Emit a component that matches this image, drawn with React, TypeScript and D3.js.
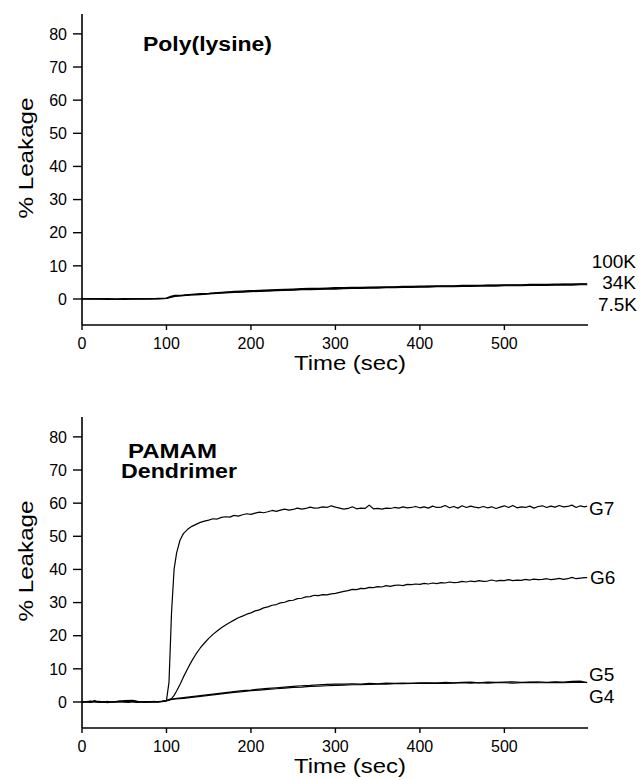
import React from "react";
import * as d3 from "d3";

// ---------- data ----------
const T_COARSE = [
  0, 10, 20, 30, 40, 50, 60, 70, 80, 90, 100, 105,
  110, 120, 130, 140, 150, 160, 170, 180, 190, 200,
  210, 220, 230, 240, 250, 260, 270, 280, 290, 300,
  310, 320, 330, 340, 350, 360, 370, 380, 390, 400,
  410, 420, 430, 440, 450, 460, 470, 480, 490, 500,
  510, 520, 530, 540, 550, 560, 570, 580, 590, 598,
];

const T_FINE = [
  0, 5, 10, 15, 20, 25, 30, 35, 40, 45, 50, 55, 60, 65, 70, 75, 80, 85, 90, 95, 100,
  103, 106, 109, 112, 116,
  120, 125, 130, 135, 140, 145, 150, 155, 160, 165,
  170, 175, 180, 185, 190, 195, 200, 205, 210, 215,
  220, 225, 230, 235, 240, 245, 250, 255, 260, 265,
  270, 275, 280, 285, 290, 295, 300, 305, 310, 315,
  320, 325, 330, 335, 340, 345, 350, 355, 360, 365,
  370, 375, 380, 385, 390, 395, 400, 405, 410, 415,
  420, 425, 430, 435, 440, 445, 450, 455, 460, 465,
  470, 475, 480, 485, 490, 495, 500, 505, 510, 515,
  520, 525, 530, 535, 540, 545, 550, 555, 560, 565,
  570, 575, 580, 585, 590, 595, 598,
];

// Poly(lysine) panel
const PL_100K = [
  0, 0.1, 0, -0.1, 0, 0.1, 0, 0.1, 0, 0.2, 0.3, 0.8,
  1.1, 1.2, 1.4, 1.6, 1.7, 1.9, 2.1, 2.3, 2.4, 2.5,
  2.6, 2.7, 2.8, 2.9, 3.0, 3.1, 3.2, 3.2, 3.3, 3.4,
  3.4, 3.5, 3.5, 3.6, 3.6, 3.7, 3.7, 3.8, 3.8, 3.9,
  3.9, 4.0, 4.0, 4.0, 4.1, 4.1, 4.1, 4.2, 4.2, 4.3,
  4.3, 4.3, 4.4, 4.4, 4.4, 4.5, 4.5, 4.5, 4.6, 4.6,
];
const PL_34K = [
  0, 0, 0.1, 0, -0.1, 0, 0.1, 0, 0.1, 0.1, 0.2, 0.6,
  0.9, 1.1, 1.3, 1.4, 1.6, 1.8, 2.0, 2.1, 2.2, 2.4,
  2.5, 2.6, 2.7, 2.7, 2.8, 2.9, 3.0, 3.1, 3.1, 3.2,
  3.3, 3.3, 3.4, 3.4, 3.5, 3.5, 3.6, 3.6, 3.7, 3.7,
  3.8, 3.8, 3.9, 3.9, 3.9, 4.0, 4.0, 4.1, 4.1, 4.1,
  4.2, 4.2, 4.2, 4.3, 4.3, 4.3, 4.4, 4.4, 4.5, 4.5,
];
const PL_7_5K = [
  0.1, 0, 0, 0.1, 0, -0.1, 0, 0, 0.1, 0, 0.2, 0.5,
  0.8, 1.0, 1.2, 1.3, 1.5, 1.7, 1.8, 2.0, 2.1, 2.2,
  2.3, 2.4, 2.5, 2.6, 2.7, 2.8, 2.8, 2.9, 3.0, 3.0,
  3.1, 3.2, 3.2, 3.3, 3.3, 3.4, 3.4, 3.5, 3.5, 3.6,
  3.6, 3.7, 3.7, 3.7, 3.8, 3.8, 3.9, 3.9, 3.9, 4.0,
  4.0, 4.0, 4.1, 4.1, 4.1, 4.2, 4.2, 4.2, 4.3, 4.3,
];

// PAMAM dendrimer panel
const G7 = [
  0, 0.1, -0.1, 0.4, 0, 0.1, -0.2, 0, 0.1, 0.3, 0, -0.1, 0.2, 0, 0.1, -0.1, 0, 0.2, 0, 0.1, 0.5,
  6, 27, 40, 45, 48.8,
  50.8, 52.1, 53.0, 53.6, 54.2, 54.6, 54.9, 55.3, 55.2, 55.7,
  55.9, 55.8, 56.3, 56.1, 56.5, 56.8, 56.6, 57.0, 57.3, 57.1,
  57.4, 57.8, 57.5, 57.9, 58.2, 57.9, 58.1, 58.5, 58.2, 58.4,
  58.8, 58.5, 58.6, 58.9, 58.7, 59.2, 58.8, 58.5, 58.2, 58.4,
  58.9, 58.3, 58.5, 58.4, 59.4, 58.3, 58.4, 58.2, 58.5, 58.4,
  58.7, 58.5, 58.9, 58.6, 58.7, 59.0, 58.6, 58.9, 58.5, 59.1,
  58.7, 58.8, 59.3, 58.6, 59.0, 58.5, 59.2, 58.7, 59.1, 58.8,
  58.6, 59.0, 58.6, 58.9, 58.4, 58.8, 59.2, 58.7, 59.3, 58.6,
  58.9, 58.7, 59.1, 58.5, 59.0, 59.2, 58.7, 59.1, 58.8, 59.3,
  58.9, 59.0, 59.4, 58.7, 59.2, 58.9, 59.1,
];
const G6 = [
  0, 0, 0.1, 0, -0.1, 0, 0.2, 0, 0, 0.1, 0, 0.1, 0, -0.1, 0, 0.1, 0, 0, 0.1, 0.2, 0.4,
  0.7, 1.0, 2.0, 3.3, 5.3,
  7.5, 10.0, 12.4, 14.5, 16.3, 17.8, 19.2, 20.4, 21.4, 22.4,
  23.2, 24.0, 24.7, 25.4, 25.9, 26.5, 26.9, 27.5, 27.8, 28.4,
  28.7, 29.2, 29.4, 29.9, 30.1, 30.6, 30.7, 31.2, 31.3, 31.7,
  31.8, 32.2, 32.1, 32.4, 32.3, 32.6, 32.8, 33.1, 33.4, 33.6,
  34.0, 33.9, 34.3, 34.2, 34.6, 34.5, 34.8, 34.7, 35.1, 34.9,
  35.2, 35.3, 35.1, 35.5, 35.4, 35.6, 35.5, 35.8, 35.6, 35.9,
  35.7, 36.0, 35.9, 36.2, 36.0, 36.1, 36.4, 36.2, 36.5, 36.3,
  36.6, 36.4, 36.5, 36.8, 36.5, 36.7, 36.6, 36.9, 36.6, 36.8,
  36.7, 37.0, 36.8, 37.1, 36.9, 37.0, 37.2, 36.9, 37.1, 37.3,
  37.0, 37.2, 37.6, 37.2, 37.4, 37.5, 37.5,
];
const G5 = [
  0, 0.3, 0, -0.1, 0.1, 0.4, 0.5, 0, 0.1, 0, 0.4, 0.8,
  1.0, 1.3, 1.6, 1.9, 2.2, 2.5, 2.8, 3.1, 3.4, 3.6,
  3.9, 4.1, 4.3, 4.5, 4.7, 4.9, 5.0, 5.2, 5.3, 5.4,
  5.4, 5.5, 5.4, 5.6, 5.5, 5.7, 5.6, 5.7, 5.6, 5.8,
  5.8, 5.7, 5.9, 5.8, 5.9, 6.0, 5.8, 6.0, 5.9, 6.0,
  6.1, 5.9, 6.0, 6.1, 5.9, 6.1, 6.0, 6.2, 6.3, 5.8,
];
const G4 = [
  0, 0, 0.2, 0, 0, 0.1, 0.3, 0, 0, 0.1, 0.3, 0.7,
  0.9, 1.1, 1.4, 1.7, 2.0, 2.3, 2.6, 2.9, 3.1, 3.4,
  3.6, 3.8, 4.0, 4.2, 4.4, 4.5, 4.7, 4.8, 4.9, 5.0,
  5.1, 5.2, 5.2, 5.3, 5.4, 5.4, 5.5, 5.5, 5.6, 5.6,
  5.6, 5.7, 5.6, 5.7, 5.8, 5.7, 5.8, 5.7, 5.8, 5.8,
  5.7, 5.8, 5.9, 5.8, 5.8, 5.9, 5.8, 5.9, 5.9, 5.9,
];

const X_TICKS = [0, 100, 200, 300, 400, 500];
const Y_TICKS = [0, 10, 20, 30, 40, 50, 60, 70, 80];
const X_DOMAIN = [0, 599];
const Y_DOMAIN = [-7.85, 86];

const FONT = "'Liberation Sans', Arial, Helvetica, sans-serif";

type Series = { t: number[]; v: number[] };
type Label = { text: string; x: number; y: number; anchor: "start" | "end" };
type Title = { text: string; x: number; y: number; len: number };

function Panel({
  dy,
  series,
  labels,
  titles,
}: {
  dy: number;
  series: Series[];
  labels: Label[];
  titles: Title[];
}) {
  const x = d3.scaleLinear().domain(X_DOMAIN).range([82, 588]);
  const y = d3.scaleLinear().domain(Y_DOMAIN).range([325, 14]);
  const line = d3
    .line<[number, number]>()
    .x((d) => x(d[0]))
    .y((d) => y(d[1]));
  const x0 = x(X_DOMAIN[0]);
  const yBottom = y(Y_DOMAIN[0]);
  const yTop = y(Y_DOMAIN[1]);
  return (
    <g transform={`translate(0,${dy})`}>
      {series.map((s, i) => (
        <path
          key={i}
          d={line(s.t.map((t, j) => [t, s.v[j]] as [number, number])) || ""}
          fill="none"
          stroke="#000"
          strokeWidth={1.2}
          strokeLinejoin="round"
        />
      ))}
      {/* y axis */}
      <line x1={x0} x2={x0} y1={yTop} y2={yBottom} stroke="#000" strokeWidth={1.6} />
      {Y_TICKS.map((v) => (
        <g key={v}>
          <line x1={x0 - 9} x2={x0} y1={y(v)} y2={y(v)} stroke="#000" strokeWidth={1.4} />
          <text
            x={x0 - 15}
            y={y(v)}
            dy="0.36em"
            textAnchor="end"
            fontSize={16}
            fontFamily={FONT}
          >
            {v}
          </text>
        </g>
      ))}
      {/* x axis */}
      <line x1={x0} x2={x(X_DOMAIN[1])} y1={yBottom} y2={yBottom} stroke="#000" strokeWidth={1.6} />
      {X_TICKS.map((v) => (
        <g key={v}>
          <line x1={x(v)} x2={x(v)} y1={yBottom} y2={yBottom + 5} stroke="#000" strokeWidth={1.4} />
          <text x={x(v)} y={349} textAnchor="middle" fontSize={16} fontFamily={FONT}>
            {v}
          </text>
        </g>
      ))}
      <text x={350} y={370} textAnchor="middle" fontSize={21} fontFamily={FONT} textLength={112} lengthAdjust="spacingAndGlyphs">
        Time (sec)
      </text>
      <text
        transform={`translate(33,158) rotate(-90)`}
        textAnchor="middle"
        fontSize={21}
        fontFamily={FONT}
        textLength={121}
        lengthAdjust="spacingAndGlyphs"
      >
        % Leakage
      </text>
      {titles.map((t) => (
        <text
          key={t.text}
          x={t.x}
          y={t.y}
          fontSize={20}
          fontWeight="bold"
          fontFamily={FONT}
          textLength={t.len}
          lengthAdjust="spacingAndGlyphs"
        >
          {t.text}
        </text>
      ))}
      {labels.map((l) => (
        <text key={l.text} x={l.x} y={l.y} textAnchor={l.anchor} fontSize={19} fontFamily={FONT}>
          {l.text}
        </text>
      ))}
    </g>
  );
}

export default function App() {
  return (
    <svg
      width={640}
      height={780}
      style={{ position: "absolute", left: 0, top: 0, background: "#fff" }}
    >
      <rect width={640} height={780} fill="#fff" />
      <Panel
        dy={0}
        series={[
          { t: T_COARSE, v: PL_100K },
          { t: T_COARSE, v: PL_34K },
          { t: T_COARSE, v: PL_7_5K },
        ]}
        titles={[{ text: "Poly(lysine)", x: 143, y: 51, len: 129 }]}
        labels={[
          { text: "100K", x: 636, y: 268, anchor: "end" },
          { text: "34K", x: 636, y: 289, anchor: "end" },
          { text: "7.5K", x: 637, y: 311, anchor: "end" },
        ]}
      />
      <Panel
        dy={403}
        series={[
          { t: T_FINE, v: G7 },
          { t: T_FINE, v: G6 },
          { t: T_COARSE, v: G5 },
          { t: T_COARSE, v: G4 },
        ]}
        titles={[
          { text: "PAMAM", x: 128, y: 55, len: 89 },
          { text: "Dendrimer", x: 121, y: 75, len: 116 },
        ]}
        labels={[
          { text: "G7", x: 589, y: 112, anchor: "start" },
          { text: "G6", x: 590, y: 181, anchor: "start" },
          { text: "G5", x: 589, y: 278, anchor: "start" },
          { text: "G4", x: 589, y: 300, anchor: "start" },
        ]}
      />
    </svg>
  );
}
